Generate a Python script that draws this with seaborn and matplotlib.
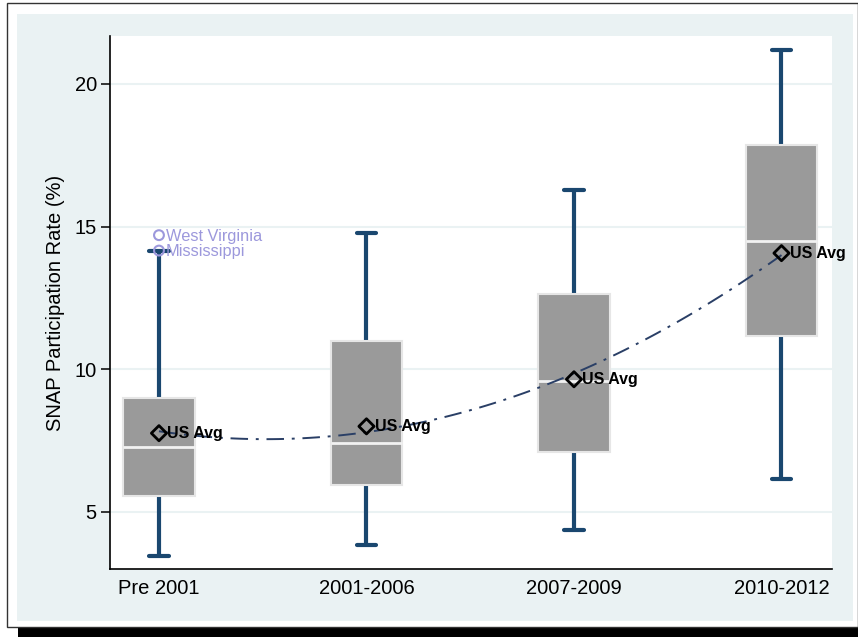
import numpy as np
import pandas as pd
import matplotlib
matplotlib.use("Agg")
import matplotlib.pyplot as plt
from matplotlib.patches import Rectangle
import seaborn as sns

# Five-number summaries of state SNAP participation rates by period
periods = ["Pre 2001", "2001-2006", "2007-2009", "2010-2012"]
whisker_low = [3.45, 3.84, 4.37, 6.16]
q1 = [5.56, 5.95, 7.10, 11.15]
median = [7.26, 7.43, 9.58, 14.51]
q3 = [8.98, 11.00, 12.63, 17.86]
whisker_high = [14.14, 14.77, 16.27, 21.19]

# National average participation rate per period
us_avg = [7.76, 8.00, 9.65, 14.07]

# States beyond the upper whisker in the earliest period
outlier_states = ["West Virginia", "Mississippi"]
outlier_rates = [14.70, 14.16]
outlier_period = "Pre 2001"

y_ticks = [5, 10, 15, 20]

BG = "#eaf2f3"
NAVY = "#1a476f"
BOX_GRAY = "#9a9a9a"
LAVENDER = "#9c98dc"

sns.set_theme(style="white")
plt.rcParams["font.family"] = ["Liberation Sans", "DejaVu Sans"]

# Each summary as five observations: quartiles fall exactly on them
rows = []
for p, lo, a, m, b, hi in zip(periods, whisker_low, q1, median, q3, whisker_high):
    for v in (lo, a, m, b, hi):
        rows.append({"period": p, "rate": v})
box_df = pd.DataFrame(rows)

avg_df = pd.DataFrame({"pos": np.arange(len(periods)), "rate": us_avg})

fig = plt.figure(figsize=(8.58, 6.37), dpi=100)
fig.patch.set_facecolor("white")

W, H = 858.0, 637.0
def fx(px):
    return px / W
def fy(py):
    return 1 - py / H

# Page frame, shadow bar and graph region
fig.add_artist(Rectangle((fx(18), fy(637)), fx(858 - 18), 9 / H,
                         transform=fig.transFigure, facecolor="black",
                         edgecolor="none", zorder=0))
fig.add_artist(Rectangle((fx(6.5), fy(627)), fx(858 - 6.5), (627 - 3) / H,
                         transform=fig.transFigure, facecolor="white",
                         edgecolor="#333333", linewidth=1.0, zorder=0))
fig.add_artist(Rectangle((fx(17), fy(621)), fx(853 - 17), (621 - 14) / H,
                         transform=fig.transFigure, facecolor=BG,
                         edgecolor="none", zorder=0))

ax = fig.add_axes([fx(110), fy(569.3), fx(831.7 - 110), (569.3 - 36) / H])
ax.set_facecolor("white")

for t in y_ticks:
    ax.axhline(t, color=BG, linewidth=1.5, zorder=0)

sns.boxplot(
    data=box_df, x="period", y="rate", order=periods, ax=ax,
    whis=(0, 100), showfliers=False, width=0.345,
    color=BOX_GRAY, saturation=1, linecolor="#e6e6e6", linewidth=1.5,
    capwidths=0.095,
    boxprops=dict(facecolor=BOX_GRAY, edgecolor="#e6e6e6", linewidth=1.5, zorder=2),
    medianprops=dict(color="#f2f2f2", linewidth=2, zorder=3),
    whiskerprops=dict(color=NAVY, linewidth=3, zorder=1.5),
    capprops=dict(color=NAVY, linewidth=3, zorder=1.5),
)

# Quadratic trend through the national averages
sns.regplot(data=avg_df, x="pos", y="rate", order=2, ci=None, scatter=False,
            truncate=True, ax=ax,
            line_kws=dict(color="#2a3f66", linewidth=1.4,
                          linestyle=(0, (9, 4, 1.5, 4)), zorder=4))

sns.scatterplot(data=avg_df, x="pos", y="rate", marker="D", s=60,
                facecolor="none", edgecolor="black", linewidth=2.0,
                ax=ax, zorder=5, legend=False)
for x, v in zip(avg_df["pos"], us_avg):
    ax.annotate("US Avg", (x, v), xytext=(6, 0), textcoords="offset points",
                va="center", ha="left", fontsize=11.5, fontweight="bold",
                color="black", zorder=6)

out_x = [periods.index(outlier_period)] * len(outlier_rates)
sns.scatterplot(x=out_x, y=outlier_rates, marker="o", s=50,
                facecolor="none", edgecolor=LAVENDER, linewidth=1.5,
                ax=ax, zorder=5, legend=False)
for x, v, name in zip(out_x, outlier_rates, outlier_states):
    ax.annotate(name, (x, v), xytext=(5, -1), textcoords="offset points",
                va="center", ha="left", fontsize=11.8, color=LAVENDER,
                zorder=6)

ax.set_xlim(-0.236, 3.242)
ax.set_ylim(2.99, 21.68)
ax.set_yticks(y_ticks)
ax.set_yticklabels([str(t) for t in y_ticks])
ax.set_xlabel("")
ax.set_ylabel("SNAP Participation Rate (%)", fontsize=14.5, color="black",
              labelpad=7)

for side in ("top", "right"):
    ax.spines[side].set_visible(False)
for side in ("left", "bottom"):
    ax.spines[side].set_visible(True)
    ax.spines[side].set_color("black")
    ax.spines[side].set_linewidth(1.2)

ax.tick_params(axis="y", which="major", direction="out", length=6.5,
               width=1.1, color="black", left=True, labelsize=14.5,
               labelcolor="black", pad=3)
ax.tick_params(axis="x", which="major", length=0, labelsize=14.5,
               labelcolor="black", pad=7)

fig.savefig("out.png", dpi=100, facecolor=fig.get_facecolor())
